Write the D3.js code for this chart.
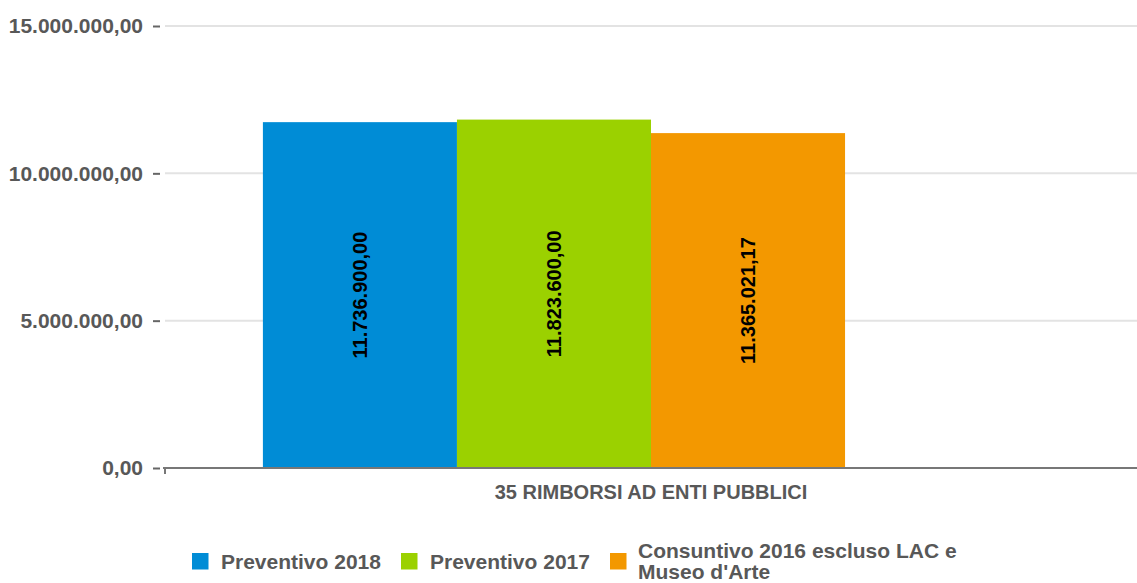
<!DOCTYPE html>
<html><head><meta charset="utf-8">
<script src="https://cdn.jsdelivr.net/npm/d3@7"></script>
<style>body{margin:0;background:#fff;}svg{display:block;}</style>
</head><body>
<svg id="c" width="1137" height="583"></svg>
<script>
const categories = ["35 RIMBORSI AD ENTI PUBBLICI"];
const seriesNames = ["Preventivo 2018", "Preventivo 2017", "Consuntivo 2016 escluso LAC e Museo d'Arte"];
const seriesValues = [11736900.00, 11823600.00, 11365021.17];
const seriesColors = ["#008cd6", "#9bd100", "#f39800"];
const yTicks = [0, 5000000, 10000000, 15000000];

(function () {
const fmt = v => {
  const s = v.toFixed(2).split(".");
  return s[0].replace(/\B(?=(\d{3})+(?!\d))/g, ".") + "," + s[1];
};

const svg = d3.select("#c");
const mLeft = 165, mRight = 1137, mTop = 26, mBottom = 468;
const font = "Liberation Sans, Arial, sans-serif";

const y = d3.scaleLinear().domain([0, 15000000]).range([mBottom, mTop]);
const x0 = d3.scaleBand().domain(categories).range([mLeft, mRight]).padding(0.112);
const slots = seriesNames.concat([""]);
const x1 = d3.scaleBand().domain(slots).range([0, x0.bandwidth()]);

svg.append("g").selectAll("line").data(yTicks.filter(t => t > 0)).join("line")
  .attr("x1", mLeft).attr("x2", mRight).attr("y1", d => y(d)).attr("y2", d => y(d))
  .attr("stroke", "#e3e3e3").attr("stroke-width", 2);

const yAxis = svg.append("g").attr("transform", `translate(${mLeft},0)`)
  .call(d3.axisLeft(y).tickValues(yTicks).tickFormat(fmt).tickSize(7).tickPadding(15));
yAxis.select(".domain").remove();
yAxis.selectAll(".tick line").attr("stroke", "#666").attr("stroke-width", 2).attr("x1", -5).attr("x2", -12);
yAxis.selectAll("text").attr("fill", "#585858").style("font", `bold 21px ${font}`);

const g = svg.append("g").attr("transform", `translate(${x0(categories[0])},0)`);
g.selectAll("rect").data(seriesValues).join("rect")
  .attr("x", (d, i) => x1(seriesNames[i])).attr("width", x1.bandwidth())
  .attr("y", d => y(d)).attr("height", d => y(0) - y(d))
  .attr("fill", (d, i) => seriesColors[i]);

g.selectAll("text").data(seriesValues).join("text")
  .attr("transform", (d, i) => `translate(${x1(seriesNames[i]) + x1.bandwidth() / 2},${(y(d) + y(0)) / 2}) rotate(-90)`)
  .attr("text-anchor", "middle").attr("dy", "0.35em")
  .attr("fill", "#000").style("font", `bold 20px ${font}`)
  .text(d => fmt(d));

svg.append("line").attr("x1", mLeft - 2).attr("x2", mRight).attr("y1", mBottom).attr("y2", mBottom)
  .attr("stroke", "#777").attr("stroke-width", 2);
svg.append("line").attr("x1", mLeft).attr("x2", mLeft).attr("y1", mBottom).attr("y2", mBottom + 6)
  .attr("stroke", "#777").attr("stroke-width", 2);

svg.append("g").selectAll("text").data(categories).join("text")
  .attr("x", d => x0(d) + x0.bandwidth() / 2).attr("y", 499)
  .attr("text-anchor", "middle").attr("fill", "#585858")
  .style("font", `bold 20px ${font}`).text(d => d);

const legendX = [192, 401, 610];
const leg = svg.append("g");
seriesNames.forEach((n, i) => {
  leg.append("rect").attr("x", legendX[i]).attr("y", 553).attr("width", 16.5).attr("height", 16.5)
    .attr("fill", seriesColors[i]);
  const t = leg.append("text").attr("x", legendX[i] + 29).attr("fill", "#585858")
    .style("font", `bold 21px ${font}`);
  if (i === 2) {
    t.append("tspan").attr("x", legendX[i] + 28).attr("y", 558).text("Consuntivo 2016 escluso LAC e");
    t.append("tspan").attr("x", legendX[i] + 28).attr("y", 579).text("Museo d'Arte");
  } else {
    t.attr("y", 569).text(n);
  }
});
})();
</script>
</body></html>
